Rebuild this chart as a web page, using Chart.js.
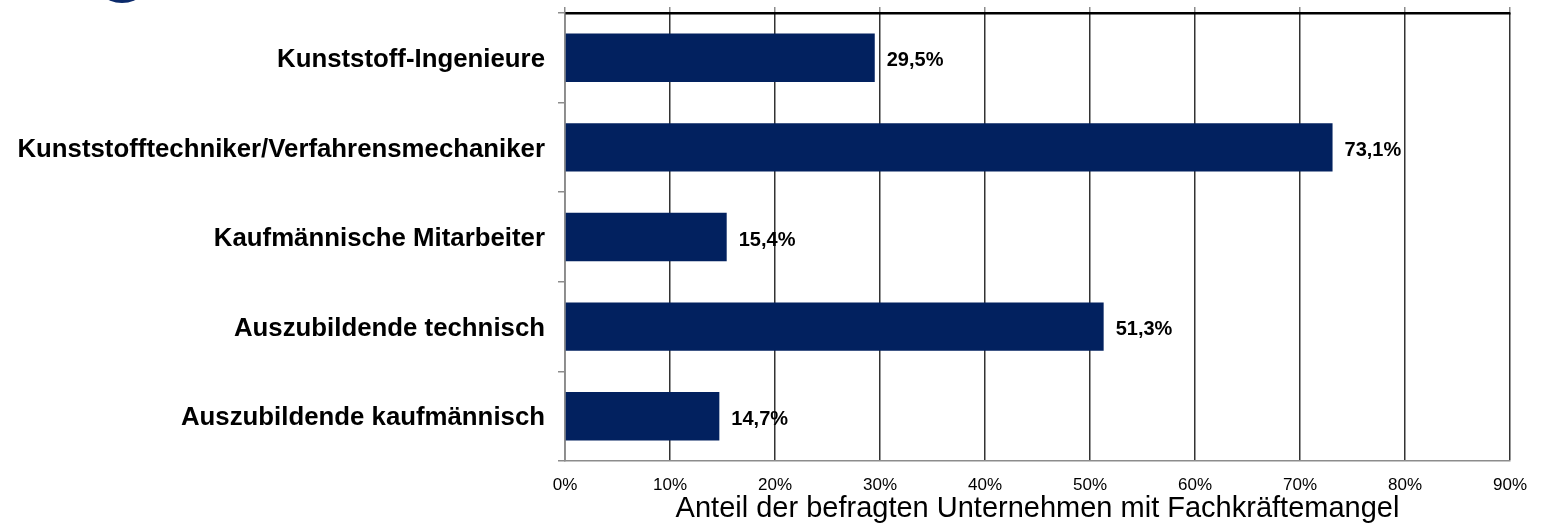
<!DOCTYPE html>
<html lang="de">
<head>
<meta charset="utf-8">
<title>Fachkräftemangel</title>
<script src="https://cdn.jsdelivr.net/npm/chart.js@4/dist/chart.umd.min.js"></script>
<style>
  html, body { margin: 0; padding: 0; background: #fff; }
  #chart { display: block; }
</style>
</head>
<body>
<canvas id="chart" width="1542" height="526"></canvas>
<script>
// Daten
const categories = [
    'Kunststoff-Ingenieure',
    'Kunststofftechniker/Verfahrensmechaniker',
    'Kaufmännische Mitarbeiter',
    'Auszubildende technisch',
    'Auszubildende kaufmännisch'
];
const shares = [29.5, 73.1, 15.4, 51.3, 14.7];
const xTicks = [0, 10, 20, 30, 40, 50, 60, 70, 80, 90];
const axisTitle = 'Anteil der befragten Unternehmen mit Fachkräftemangel';

const FONT = "'Liberation Sans', Arial, Helvetica, sans-serif";
const BAR_COLOR = '#02215f';

// Prozentwerte im deutschen Format
function fmtPct(v) {
    return v.toFixed(1).replace('.', ',') + '%';
}

// Werte rechts neben den Balken
const valueLabels = {
    id: 'valueLabels',
    afterDatasetsDraw(chart) {
        const ctx = chart.ctx;
        const meta = chart.getDatasetMeta(0);
        ctx.save();
        ctx.font = 'bold 20px ' + FONT;
        ctx.fillStyle = '#000';
        ctx.textAlign = 'left';
        ctx.textBaseline = 'middle';
        meta.data.forEach((bar, i) => {
            ctx.fillText(fmtPct(shares[i]), bar.x + 12, bar.y + 3);
        });
        ctx.restore();
    }
};

// Logo-Rest oben links (angeschnitten)
const logoStub = {
    id: 'logoStub',
    beforeDraw(chart) {
        const ctx = chart.ctx;
        ctx.save();
        ctx.fillStyle = '#0b2a6b';
        ctx.beginPath();
        ctx.ellipse(122, -27, 31, 30, 0, 0, Math.PI * 2);
        ctx.fill();
        ctx.restore();
    }
};

// Keine automatische Randpolsterung durch Achsenbeschriftungen
function noPad(s) {
    s.paddingTop = 0;
    s.paddingBottom = 0;
    s.paddingLeft = 0;
    s.paddingRight = 0;
}

new Chart(document.getElementById('chart'), {
    type: 'bar',
    data: {
        labels: categories,
        datasets: [{
            data: shares,
            backgroundColor: BAR_COLOR,
            borderWidth: 0,
            barPercentage: 0.54,
            categoryPercentage: 1.0
        }]
    },
    options: {
        indexAxis: 'y',
        responsive: false,
        animation: false,
        layout: { padding: { left: 0, right: 32, top: 0, bottom: 0 } },
        plugins: {
            legend: { display: false },
            tooltip: { enabled: false }
        },
        scales: {
            x: {
                position: 'bottom',
                min: 0,
                max: 90,
                afterBuildTicks: s => { s.ticks = xTicks.map(v => ({ value: v })); },
                grid: { color: '#333', lineWidth: 1.5, drawTicks: false },
                border: { color: '#8c8c8c', width: 1.5 },
                ticks: {
                    padding: 14,
                    color: '#000',
                    font: { family: FONT, size: 17 },
                    callback: v => v + '%'
                },
                title: {
                    display: true,
                    text: axisTitle,
                    color: '#000',
                    font: { family: FONT, size: 29 },
                    padding: { top: 0, bottom: 0 }
                },
                afterFit: s => { s.height = 65; noPad(s); }
            },
            xTop: {
                position: 'top',
                min: 0,
                max: 90,
                afterBuildTicks: s => { s.ticks = xTicks.map(v => ({ value: v })); },
                grid: { drawOnChartArea: false, color: '#8c8c8c', tickLength: 6, lineWidth: 1.5 },
                border: { color: '#000', width: 2.5 },
                ticks: { display: false },
                afterFit: s => { s.height = 13; noPad(s); }
            },
            y: {
                grid: { drawOnChartArea: false, offset: true, color: '#8c8c8c', tickLength: 7, lineWidth: 1.5 },
                border: { color: '#8c8c8c', width: 1.5 },
                ticks: {
                    padding: 13,
                    labelOffset: 2,
                    color: '#000',
                    font: { family: FONT, size: 25.8, weight: 'bold' }
                },
                afterFit: s => { s.width = 565; noPad(s); }
            }
        }
    },
    plugins: [valueLabels, logoStub]
});
</script>
</body>
</html>
